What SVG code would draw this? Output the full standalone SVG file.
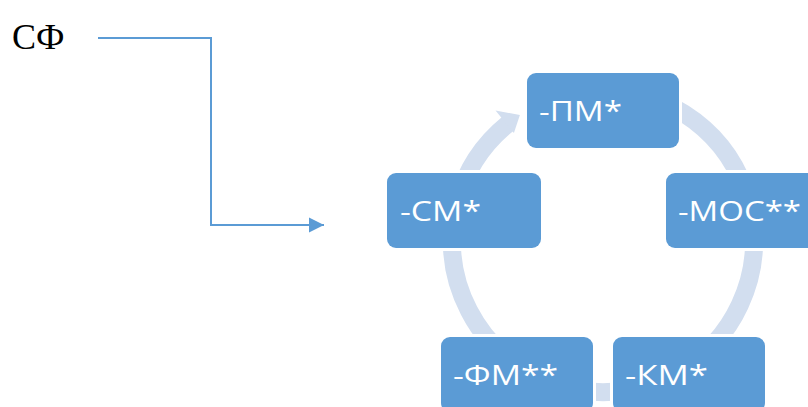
<svg xmlns="http://www.w3.org/2000/svg" width="808" height="407" viewBox="0 0 808 407">
  <defs>
    <style>
      .ring { fill: none; stroke: #D2DEEF; stroke-width: 18; stroke-linecap: butt; }
      .halo { fill: #FFFFFF; }
      .box { fill: #5B9BD5; }
      .lbl { fill: #FFFFFF; font-family: "Open Sans", "Liberation Sans", sans-serif; font-size: 26.5px; }
      .conn { fill: none; stroke: #5B9BD5; stroke-width: 2; }
    </style>
    <marker id="arr" markerUnits="userSpaceOnUse" markerWidth="16" markerHeight="16" refX="15" refY="8" orient="auto">
      <path d="M0,0.5 L15,8 L0,15.5 Z" fill="#5B9BD5"/>
    </marker>
  </defs>
  <rect width="808" height="407" fill="#FFFFFF"/>

  <text x="12" y="49" font-family="'Liberation Serif', 'Times New Roman', serif" font-size="36" fill="#000000">СФ</text>

  <g id="connectors">
    <path class="conn" d="M98,38 H211 V225 H324" marker-end="url(#arr)"/>
    <g id="cycle">
      <path class="ring" d="M457.1,201.9 A151,151 0 0 1 508.0,123.7"/>
      <polygon points="495.5,110.6 519.9,114.9 513.9,133" fill="#D2DEEF"/>
      <path class="ring" d="M589.8,90.6 A151,151 0 0 1 744.9,189.4"/>
      <path class="ring" d="M751.7,214.8 A151,151 0 0 1 678.5,371.8"/>
      <path class="ring" d="M642.1,386.9 A151,151 0 0 1 563.9,386.9"/>
      <path class="ring" d="M539.2,377.9 A151,151 0 0 1 454.3,214.8"/>
    </g>
  </g>

  <g id="node-pm">
    <rect class="halo" x="524" y="70" width="158" height="81" rx="12"/>
    <rect class="box" x="527" y="73" width="152" height="75" rx="9"/>
    <text class="lbl" x="539" y="121" textLength="83" lengthAdjust="spacingAndGlyphs">-ПМ*</text>
  </g>
  <g id="node-mos">
    <rect class="halo" x="663" y="170" width="158" height="81" rx="12"/>
    <rect class="box" x="666" y="173" width="152" height="75" rx="9"/>
    <text class="lbl" x="678" y="221" textLength="123" lengthAdjust="spacingAndGlyphs">-МОС**</text>
  </g>
  <g id="node-km">
    <rect class="halo" x="610" y="334" width="158" height="81" rx="12"/>
    <rect class="box" x="613" y="337" width="152" height="75" rx="9"/>
    <text class="lbl" x="625" y="385" textLength="83" lengthAdjust="spacingAndGlyphs">-КМ*</text>
  </g>
  <g id="node-fm">
    <rect class="halo" x="438" y="334" width="158" height="81" rx="12"/>
    <rect class="box" x="441" y="337" width="152" height="75" rx="9"/>
    <text class="lbl" x="453" y="385" textLength="105" lengthAdjust="spacingAndGlyphs">-ФМ**</text>
  </g>
  <g id="node-sm">
    <rect class="halo" x="384" y="170" width="160" height="81" rx="12"/>
    <rect class="box" x="387" y="173" width="154" height="75" rx="9"/>
    <text class="lbl" x="400" y="221" textLength="81" lengthAdjust="spacingAndGlyphs">-СМ*</text>
  </g>
</svg>
